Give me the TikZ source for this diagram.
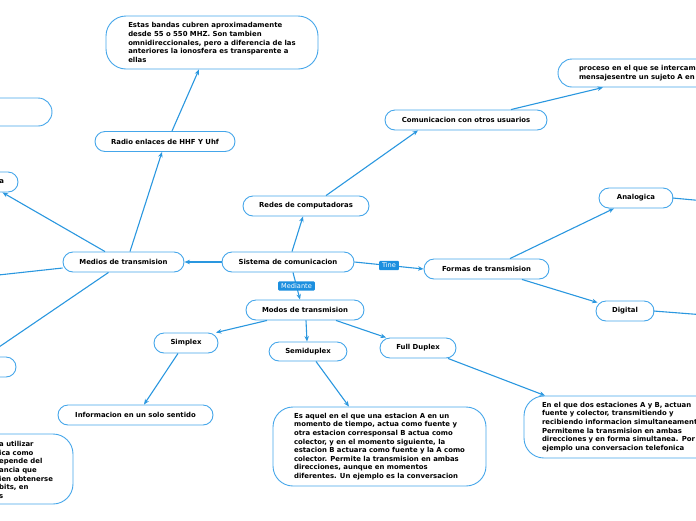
\documentclass[tikz,border=0pt]{standalone}
\usepackage{fontspec}
\setmainfont{DejaVu Sans}
\usetikzlibrary{arrows.meta}
\definecolor{lb}{HTML}{45A6EA}
\definecolor{lnk}{HTML}{2A97DF}
\definecolor{tagc}{HTML}{1C8FDF}
\tikzset{
 pill/.style={draw=lb, line width=0.9pt, rounded corners=10pt, fill=white, font=\bfseries\fontsize{6.9}{8.6}\selectfont, inner sep=0pt, minimum height=20pt},
 bigbox/.style={draw=lb, line width=0.9pt, rounded corners=20pt, fill=white, font=\bfseries\fontsize{6.9}{8.6}\selectfont, align=left, inner xsep=18pt, inner ysep=0pt},
 widebox/.style={bigbox, text width=200pt},
 bodytext/.style={font=\bfseries\fontsize{6.9}{8.6}\selectfont, align=left, inner sep=0pt},
 conn/.style={draw=lnk, line width=1.1pt, -{Stealth[length=5.5pt,width=4.5pt]}},
 plainconn/.style={draw=lnk, line width=1.1pt},
 tagbox/.style={fill=tagc, text=white, font=\fontsize{6.6}{8}\selectfont, inner xsep=3pt, inner ysep=2pt, rounded corners=1pt}
}
\begin{document}
\begin{tikzpicture}[x=1pt,y=-1pt]
\useasboundingbox (0,0) rectangle (696,520);
\clip (0,0) rectangle (696,520);

% nodes
\node[bigbox, minimum width=212pt, minimum height=53pt] (estas) at (212,42.5) {Estas bandas cubren aproximadamente\\desde 55 o 550 MHZ. Son tambien\\omnidireccionales, pero a diferencia de las\\anteriores la ionosfera es transparente a\\ellas};
\node[pill, rounded corners=14pt, minimum width=184pt, minimum height=28pt] (tl) at (-40,112) {};
\node[pill, minimum width=140pt] (rad) at (165,141.5) {Radio enlaces de HHF Y Uhf};
\node[pill, minimum width=116pt, text width=88pt, align=right] (nn) at (-40,182) {a};
\node[pill, minimum width=121pt] (medios) at (123.5,262) {Medios de transmision};
\node[pill, minimum width=132pt] (sis) at (288,262) {Sistema de comunicacion};
\node[pill, minimum width=126pt] (redes) at (306,206) {Redes de computadoras};
\node[pill, minimum width=162pt] (com) at (466,120) {Comunicacion con otros usuarios};
\node[widebox, rounded corners=14pt, inner xsep=21pt, minimum height=28pt] (proc) at (679,73) {proceso en el que se intercambian\\mensajesentre un sujeto A en};
\node[pill, minimum width=125pt] (formas) at (486.5,269) {Formas de transmision};
\node[pill, minimum width=74pt] (ana) at (636,198) {Analogica};
\node[pill, minimum width=58pt] (dig) at (625,311) {Digital};
\node[pill, minimum width=118pt] (modos) at (305,310) {Modos de transmision};
\node[pill, minimum width=64pt] (simplex) at (186,343) {Simplex};
\node[pill, minimum width=78pt, minimum height=19pt] (semi) at (308,351.5) {Semiduplex};
\node[pill, minimum width=76pt] (full) at (418,348) {Full Duplex};
\node[pill, minimum width=155pt] (info) at (135.5,415) {Informacion en un solo sentido};
\node[pill, minimum width=116pt] (bl2) at (-42,367) {};
\node[bigbox, minimum width=213pt, minimum height=79pt] (es) at (379.5,446.5) {Es aquel en el que una estacion A en un\\momento de tiempo, actua como fuente y\\otra estacion corresponsal B actua como\\colector, y en el momento siguiente, la\\estacion B actuara como fuente y la A como\\colector. Permite la transmision en ambas\\direcciones, aunque en momentos\\diferentes. Un ejemplo es la conversacion};
\node[widebox, minimum height=62pt] (en) at (642,427) {En el que dos estaciones A y B, actuan\\fuente y colector, transmitiendo y\\recibiendo informacion simultaneamente.\\Permiteme la transmision en ambas\\direcciones y en forma simultanea. Por\\ejemplo una conversacion telefonica};
\node[pill, rounded corners=20pt, minimum width=212pt, minimum height=70pt] (bl) at (-33,469) {};
\node[bodytext, anchor=west] (bltext) at (-1,470) {a utilizar\\ica como\\epende del\\ancia que\\ien obtenerse\\bits, en\\s};

\coordinate (anaoff) at (705,201);
\coordinate (digoff) at (705,315);
\coordinate (medoff) at (-20,277);

% connectors
\draw[conn] (sis.west) -- (medios.east);
\draw[conn] ([xshift=4pt]sis.north) -- ([xshift=-3pt]redes.south);
\draw[conn] ([xshift=20pt]redes.north) -- ([xshift=-48pt]com.south);
\draw[conn] ([xshift=45pt]com.north) -- ([xshift=-76pt]proc.south);
\draw[conn] (sis.east) -- node[tagbox] (tine) {Tine} (formas.west);
\draw[conn] ([xshift=23.5pt]formas.north) -- ([xshift=-22pt]ana.south);
\draw[plainconn] ([xshift=-1pt]ana.east) -- (anaoff);
\draw[conn] ([xshift=35.5pt]formas.south) -- ([xshift=2pt,yshift=-2pt]dig.north west);
\draw[plainconn] ([xshift=-1pt]dig.east) -- (digoff);
\draw[conn] ([xshift=5pt]sis.south) -- node[tagbox] (med) {Mediante} ([xshift=-5pt]modos.north);
\draw[conn] ([xshift=-38pt]modos.south) -- ([xshift=30pt]simplex.north);
\draw[conn] ([xshift=1pt]modos.south) -- ([xshift=-1pt]semi.north);
\draw[conn] ([xshift=31pt]modos.south) -- ([xshift=-32pt]full.north);
\draw[conn] ([xshift=-8pt]simplex.south) -- ([xshift=8.5pt]info.north);
\draw[conn] ([xshift=8pt]semi.south) -- ([xshift=-30.5pt]es.north);
\draw[conn] ([xshift=30pt]full.south) -- ([xshift=-97pt]en.north);
\draw[conn] ([xshift=6.5pt]medios.north) -- ([xshift=-3pt]rad.south);
\draw[conn] ([xshift=7pt]rad.north) -- ([xshift=-13pt]estas.south);
\draw[conn] ([xshift=-18.5pt]medios.north) -- ([xshift=-16pt]nn.south east);
\draw[conn] ([yshift=-6pt]medios.west) -- (medoff);
\draw[conn] ([xshift=-15pt]medios.south) -- ([xshift=27pt]bl2.north);
\end{tikzpicture}
\end{document}
